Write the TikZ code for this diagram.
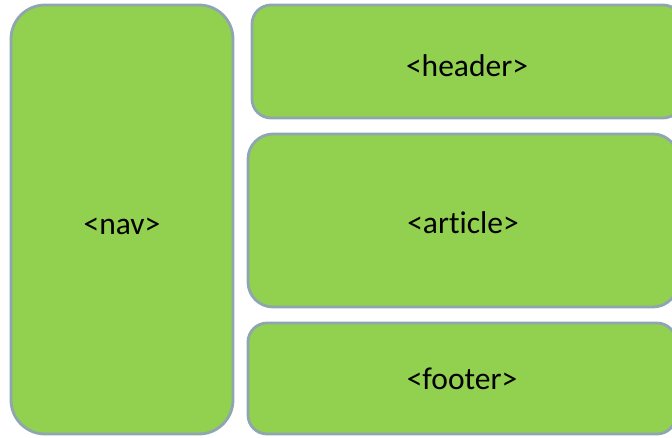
\documentclass[tikz,border=0pt]{standalone}
\usepackage{fontspec}
\setmainfont{Carlito}[Ligatures=NoCommon]
\usetikzlibrary{positioning}
\definecolor{boxgreen}{RGB}{146,208,80}
\definecolor{boxline}{RGB}{143,166,176}

\begin{document}
\begin{tikzpicture}[x=1pt, y=-1pt,
    block/.style={draw=boxline, fill=boxgreen, line width=2.8pt, inner sep=0pt,
      font=\fontsize{31.5}{36}\selectfont},
    lower/.style={text height=#1, text depth=0pt}]
    \useasboundingbox (0,0) rectangle (672,437);
    \clip (0,0) rectangle (672,437);

    \node[block, lower=29pt, minimum width=222pt, minimum height=429pt, rounded corners=34pt] (nav) at (122,219.5) {<nav>};
    \node[block, lower=30pt, minimum width=430pt, minimum height=113pt, rounded corners=19pt] (header) at (467,61.5) {<header>};
    \node[block, lower=26pt, minimum width=430pt, minimum height=173pt, rounded corners=25pt] (article) at (463,220.5) {<article>};
    \node[block, minimum width=428pt, minimum height=111pt, rounded corners=19pt] (footer) at (462,378.5) {<footer>};
\end{tikzpicture}
\end{document}
